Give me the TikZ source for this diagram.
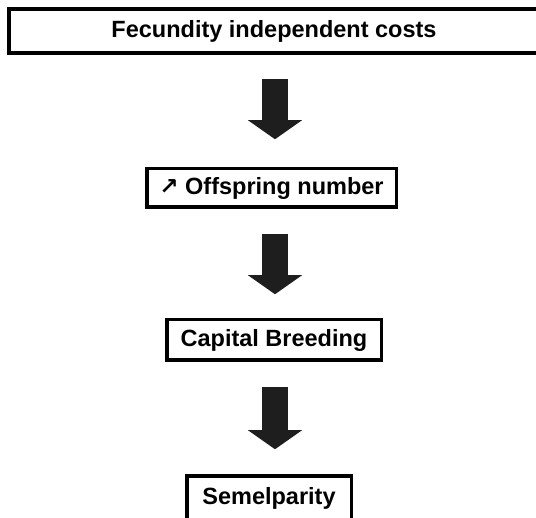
\documentclass[tikz,border=0pt]{standalone}
\usepackage{fontspec}
\setmainfont{Liberation Sans}
\newfontfamily\symbolfont{DejaVu Sans}
\usetikzlibrary{arrows.meta,calc}
\definecolor{arrowgray}{RGB}{30,30,30}
\tikzset{
  box/.style={draw, line width=3.5pt, inner sep=0pt, font=\fontsize{23.5}{27}\selectfont\bfseries},
  bigarrow/.style={arrowgray, line width=26pt, -{Triangle[width=54pt,length=19pt,line width=0pt]}}
}
\begin{document}
\begin{tikzpicture}[x=1pt,y=-1pt]
  \useasboundingbox (0,0) rectangle (536,518);
  \node[box, line width=4pt, minimum width=530pt, minimum height=44pt] at (274,31) (top) {Fecundity independent costs};
  \node[box, minimum width=249.5pt, minimum height=38.5pt] at (271.5,188) (offspring) {{\symbolfont\fontsize{23}{27}\selectfont ↗} Offspring number};
  \node[box, minimum width=214.5pt, minimum height=40.5pt] at (274,340) (capital) {Capital Breeding};
  \node[box, minimum width=164.5pt, minimum height=44pt] at (269,498) (semel) {Semelparity};
  % block arrows between the boxes
  \draw[bigarrow] ($(top.south)+(1,24)$) -- ($(offspring.north)+(3.5,-27.75)$);
  \draw[bigarrow] ($(offspring.south)+(3.5,24.75)$) -- ($(capital.north)+(1,-23.75)$);
  \draw[bigarrow] ($(capital.south)+(1,24.75)$) -- ($(semel.north)+(6,-25)$);
\end{tikzpicture}
\end{document}
